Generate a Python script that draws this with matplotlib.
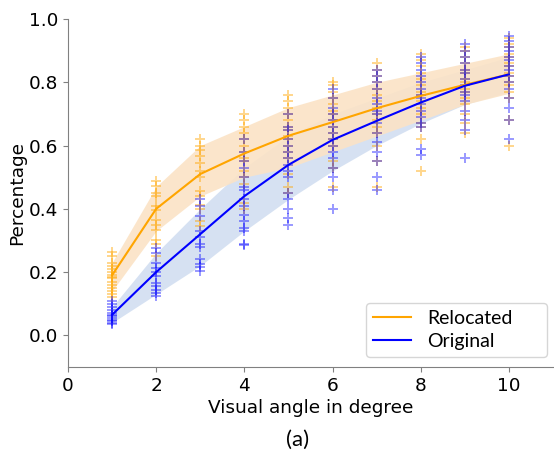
import matplotlib
matplotlib.use("Agg")
import matplotlib.pyplot as plt

# %% Data
angles = [1, 2, 3, 4, 5, 6, 7, 8, 9, 10]

reloc_mean = [0.19, 0.40, 0.51, 0.575, 0.631, 0.674, 0.718, 0.757, 0.792, 0.825]
reloc_lo   = [0.14, 0.33, 0.44, 0.50, 0.53, 0.58, 0.63, 0.68, 0.73, 0.765]
reloc_hi   = [0.23, 0.47, 0.60, 0.66, 0.72, 0.76, 0.80, 0.83, 0.86, 0.89]

orig_mean = [0.065, 0.20, 0.32, 0.44, 0.539, 0.618, 0.678, 0.736, 0.789, 0.825]
orig_lo   = [0.04, 0.13, 0.22, 0.33, 0.43, 0.52, 0.60, 0.67, 0.73, 0.77]
orig_hi   = [0.09, 0.26, 0.40, 0.53, 0.63, 0.70, 0.75, 0.80, 0.84, 0.88]

reloc_pts = [
    [0.265, 0.25, 0.23, 0.22, 0.21, 0.20, 0.19, 0.185, 0.18, 0.17, 0.16, 0.15, 0.14, 0.13, 0.12],
    [0.487, 0.471, 0.45, 0.44, 0.408, 0.397, 0.366, 0.35, 0.334, 0.303, 0.29, 0.25],
    [0.62, 0.60, 0.587, 0.566, 0.545, 0.52, 0.50, 0.455, 0.44, 0.413, 0.40, 0.36, 0.345],
    [0.70, 0.68, 0.66, 0.64, 0.62, 0.60, 0.58, 0.56, 0.55, 0.52, 0.50, 0.48, 0.42, 0.40],
    [0.76, 0.74, 0.72, 0.70, 0.68, 0.66, 0.65, 0.63, 0.62, 0.60, 0.58, 0.56, 0.51, 0.47, 0.45],
    [0.80, 0.79, 0.77, 0.75, 0.73, 0.71, 0.70, 0.68, 0.66, 0.64, 0.62, 0.60, 0.55, 0.53, 0.47],
    [0.86, 0.84, 0.82, 0.80, 0.78, 0.76, 0.74, 0.72, 0.70, 0.68, 0.66, 0.64, 0.60, 0.55, 0.47],
    [0.89, 0.87, 0.85, 0.83, 0.81, 0.79, 0.77, 0.76, 0.74, 0.72, 0.70, 0.67, 0.66, 0.62, 0.52],
    [0.91, 0.90, 0.88, 0.86, 0.84, 0.83, 0.81, 0.80, 0.78, 0.77, 0.75, 0.73, 0.70, 0.67, 0.64],
    [0.94, 0.92, 0.91, 0.89, 0.88, 0.86, 0.85, 0.83, 0.82, 0.80, 0.79, 0.77, 0.75, 0.68, 0.60],
]

orig_pts = [
    [0.11, 0.10, 0.09, 0.08, 0.07, 0.065, 0.06, 0.055, 0.05, 0.045, 0.04, 0.035],
    [0.277, 0.26, 0.229, 0.213, 0.20, 0.187, 0.166, 0.155, 0.145, 0.135, 0.124],
    [0.43, 0.41, 0.376, 0.33, 0.31, 0.29, 0.28, 0.24, 0.225, 0.215, 0.203],
    [0.62, 0.58, 0.55, 0.53, 0.50, 0.47, 0.46, 0.43, 0.41, 0.38, 0.36, 0.34, 0.33, 0.29, 0.285],
    [0.70, 0.66, 0.65, 0.62, 0.60, 0.58, 0.56, 0.54, 0.52, 0.50, 0.45, 0.43, 0.40, 0.37, 0.35],
    [0.78, 0.75, 0.72, 0.70, 0.68, 0.66, 0.64, 0.62, 0.60, 0.58, 0.56, 0.53, 0.50, 0.46, 0.40],
    [0.84, 0.82, 0.80, 0.78, 0.75, 0.73, 0.71, 0.70, 0.67, 0.64, 0.61, 0.58, 0.55, 0.50, 0.46],
    [0.88, 0.86, 0.84, 0.82, 0.80, 0.78, 0.76, 0.75, 0.73, 0.71, 0.69, 0.67, 0.66, 0.59, 0.57],
    [0.92, 0.90, 0.88, 0.86, 0.84, 0.83, 0.81, 0.79, 0.77, 0.76, 0.74, 0.71, 0.68, 0.65, 0.56],
    [0.945, 0.93, 0.91, 0.90, 0.88, 0.87, 0.85, 0.84, 0.82, 0.80, 0.78, 0.75, 0.72, 0.68, 0.62],
]

# %% Figure
fig = plt.figure(figsize=(5.54, 4.54), dpi=100)
ax = fig.add_axes([0.1227, 0.1916, 0.8755, 0.7665])

# blue band underneath, peach band laid over it
ax.fill_between(angles, orig_lo, orig_hi, color="#c9d8ee", alpha=0.75, lw=0)
ax.fill_between(angles, reloc_lo, reloc_hi, color="#fbe3c6", alpha=0.9, lw=0)

for x, ys in zip(angles, reloc_pts):
    ax.plot([x] * len(ys), ys, ls="none", marker="+", ms=6.5, mew=1.4,
            color="orange", alpha=0.45)
for x, ys in zip(angles, orig_pts):
    ax.plot([x] * len(ys), ys, ls="none", marker="+", ms=6.5, mew=1.4,
            color="blue", alpha=0.4)

ax.plot(angles, reloc_mean, color="orange", lw=1.5, label="Relocated")
ax.plot(angles, orig_mean, color="blue", lw=1.5, label="Original")

ax.set_xlim(0, 11)
ax.set_ylim(-0.1, 1.0)
ax.set_xticks([0, 2, 4, 6, 8, 10])
ax.set_yticks([0.0, 0.2, 0.4, 0.6, 0.8, 1.0])
ax.tick_params(labelsize=13.3, color="#808080")
for s in ["top", "right"]:
    ax.spines[s].set_visible(False)
for s in ["left", "bottom"]:
    ax.spines[s].set_color("#808080")

ax.set_xlabel("Visual angle in degree", fontsize=13.3, labelpad=3)
ax.set_ylabel("Percentage", fontsize=13.3, labelpad=2)

# legend frame spans px 366-547 x 298-357 in the reference
ax.legend(loc="lower left", mode="expand", borderaxespad=0,
          bbox_to_anchor=(0.614, 0.029, 0.373, 0.17),
          prop={"family": "Lato", "size": 14}, handlelength=2.0,
          handletextpad=0.8, borderpad=0.35, labelspacing=0.3)

fig.text(0.538, 0.031, "(a)", fontsize=16, family="Lato",
         ha="center", va="center")

fig.savefig("out.png", dpi=100)
